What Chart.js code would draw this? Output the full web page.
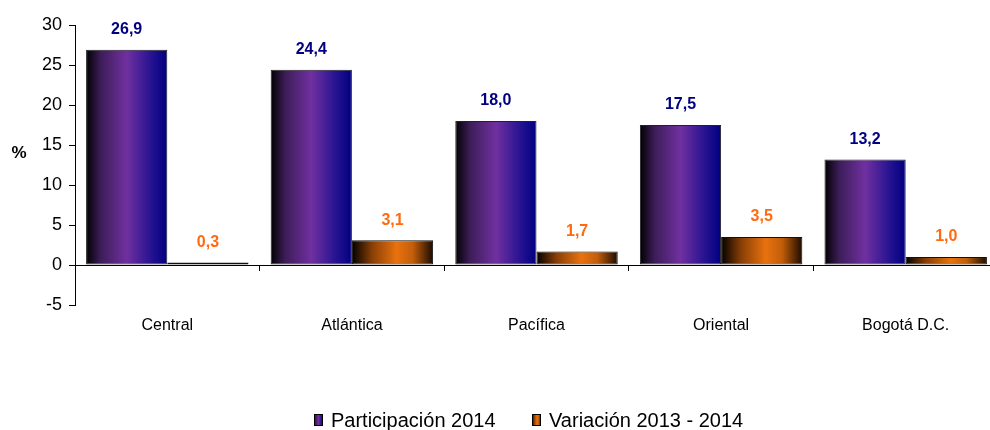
<!DOCTYPE html>
<html>
<head>
<meta charset="utf-8">
<script src="https://cdn.jsdelivr.net/npm/chart.js@4.4.1/dist/chart.umd.min.js"></script>
<style>
  html, body { margin: 0; padding: 0; background: #fff; overflow: hidden; width: 990px; height: 430px; }
  #wrap { width: 998px; height: 430px; }
</style>
</head>
<body>
<div id="wrap"><canvas id="c" width="998" height="430"></canvas></div>
<script>
const categories = ["Central", "Atlántica", "Pacífica", "Oriental", "Bogotá D.C."];
const participacion2014 = [26.9, 24.4, 18.0, 17.5, 13.2];
const variacion2013_2014 = [0.3, 3.1, 1.7, 3.5, 1.0];
const seriesNames = ["Participación 2014", "Variación 2013 - 2014"];
const yTicks = [-5, 0, 5, 10, 15, 20, 25, 30];

const FONT = "'Liberation Sans', Arial, Helvetica, sans-serif";
const CAT_PCT = 0.88;

function purpleGrad(ctx, x0, x1) {
  const g = ctx.createLinearGradient(x0, 0, x1, 0);
  g.addColorStop(0, '#000000');
  g.addColorStop(0.18, '#3d1d58');
  g.addColorStop(0.5, '#7030A0');
  g.addColorStop(0.82, '#221190');
  g.addColorStop(1, '#000080');
  return g;
}
function orangeGrad(ctx, x0, x1) {
  const g = ctx.createLinearGradient(x0, 0, x1, 0);
  g.addColorStop(0, '#000000');
  g.addColorStop(0.25, '#8a3f06');
  g.addColorStop(0.55, '#E8720E');
  g.addColorStop(0.75, '#c25e0a');
  g.addColorStop(1, '#1a0a00');
  return g;
}

function barFill(kind) {
  return function(context) {
    const chart = context.chart;
    const xs = chart.scales && chart.scales.x;
    const fallback = kind === 0 ? '#7030A0' : '#E8720E';
    if (!xs || context.dataIndex == null) return fallback;
    const catW = xs.width / categories.length;
    const barW = catW * CAT_PCT / 2;
    const c = xs.getPixelForValue(context.dataIndex);
    const x0 = kind === 0 ? c - barW : c;
    if (!isFinite(x0) || !isFinite(barW) || barW <= 0) return fallback;
    return kind === 0 ? purpleGrad(chart.ctx, x0, x0 + barW) : orangeGrad(chart.ctx, x0, x0 + barW);
  };
}

const labelPlugin = {
  id: 'valueLabels',
  afterDatasetsDraw(chart) {
    const ctx = chart.ctx;
    ctx.save();
    ctx.font = "bold 16px " + FONT;
    ctx.textAlign = 'center';
    ctx.textBaseline = 'middle';
    chart.data.datasets.forEach((ds, di) => {
      const meta = chart.getDatasetMeta(di);
      ctx.fillStyle = di === 0 ? '#000080' : '#FF6A10';
      meta.data.forEach((el, i) => {
        const v = ds.data[i];
        const txt = v.toFixed(1).replace('.', ',');
        ctx.fillText(txt, el.x, Math.min(el.y, el.base) - 20);
      });
    });
    ctx.restore();
  }
};

const extrasPlugin = {
  id: 'extras',
  afterDraw(chart) {
    const ctx = chart.ctx;
    ctx.save();
    ctx.font = "bold 17px " + FONT;
    ctx.fillStyle = '#000';
    ctx.textAlign = 'center';
    ctx.textBaseline = 'middle';
    ctx.fillText('%', 19, 153);
    ctx.font = "20px " + FONT;
    ctx.textAlign = 'left';
    ctx.textBaseline = 'alphabetic';
    const items = [
      { x: 314, name: seriesNames[0], grad: purpleGrad },
      { x: 532, name: seriesNames[1], grad: orangeGrad }
    ];
    items.forEach(it => {
      const bw = 9, bh = 12, by = 414;
      ctx.fillStyle = it.grad(ctx, it.x, it.x + bw);
      ctx.fillRect(it.x, by, bw, bh);
      ctx.strokeStyle = '#000';
      ctx.lineWidth = 1;
      ctx.strokeRect(it.x + 0.5, by + 0.5, bw - 1, bh - 1);
      ctx.fillStyle = '#000';
      ctx.fillText(it.name, it.x + bw + 8, 427);
    });
    ctx.restore();
  }
};

new Chart(document.getElementById('c'), {
  type: 'bar',
  data: {
    labels: categories,
    datasets: [
      { label: seriesNames[0], data: participacion2014, backgroundColor: barFill(0), borderColor: '#222', borderWidth: 1, borderSkipped: false },
      { label: seriesNames[1], data: variacion2013_2014, backgroundColor: barFill(1), borderColor: '#111', borderWidth: 1, borderSkipped: false }
    ]
  },
  options: {
    responsive: false,
    animation: false,
    devicePixelRatio: 1,
    layout: { padding: { top: 25, bottom: 125, left: 0, right: 0 } },
    datasets: { bar: { categoryPercentage: CAT_PCT, barPercentage: 1.0 } },
    plugins: { legend: { display: false }, tooltip: { enabled: false } },
    scales: {
      x: {
        position: { y: 0 },
        offset: true,
        grid: { display: true, drawOnChartArea: false, drawTicks: true, tickLength: 5, tickColor: '#000', offset: true },
        border: { display: true, color: '#000', width: 1 },
        ticks: { color: '#000', font: { family: FONT, size: 16 }, padding: 46, maxRotation: 0 }
      },
      y: {
        min: -5, max: 30,
        afterBuildTicks(scale) { scale.ticks = yTicks.map(v => ({ value: v })); },
        afterFit(scale) { scale.width = 75; },
        grid: { display: true, drawOnChartArea: false, drawTicks: true, tickLength: 6, tickColor: '#000' },
        border: { display: true, color: '#000', width: 1 },
        ticks: { color: '#000', font: { family: FONT, size: 18 }, padding: 7 }
      }
    }
  },
  plugins: [labelPlugin, extrasPlugin]
});
</script>
</body>
</html>
